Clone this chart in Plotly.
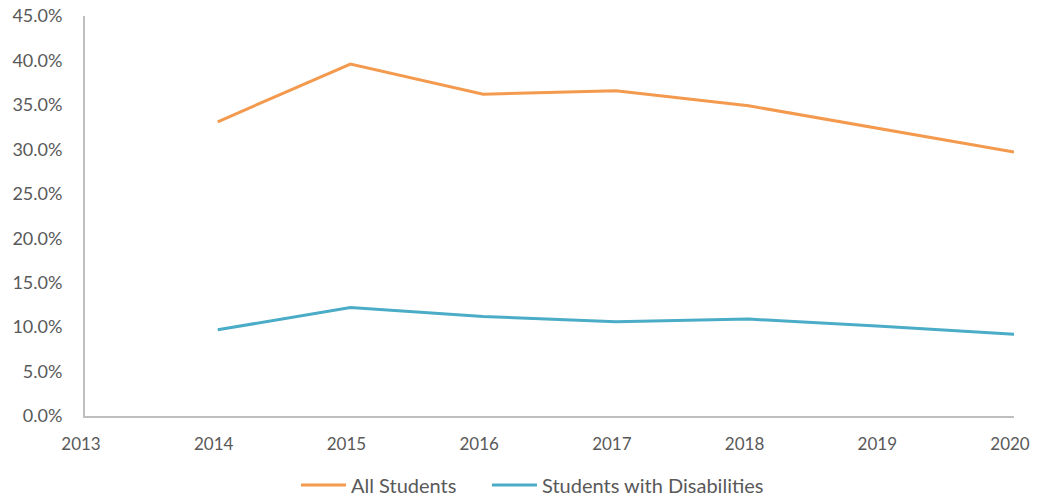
import plotly.graph_objects as go

years = [2014, 2015, 2016, 2017, 2018, 2019, 2020]
all_students = [33.1, 39.6, 36.2, 36.6, 34.9, 32.3, 29.7]
swd = [9.7, 12.2, 11.2, 10.6, 10.9, 10.1, 9.2]
x_ticks = [2013, 2014, 2015, 2016, 2017, 2018, 2019, 2020]
y_ticks = [0, 5, 10, 15, 20, 25, 30, 35, 40, 45]

fig = go.Figure()
fig.add_trace(go.Scatter(x=years, y=all_students, mode="lines", name="All Students",
                         line=dict(color="#F39A4E", width=3), legend="legend"))
fig.add_trace(go.Scatter(x=years, y=swd, mode="lines", name="Students with Disabilities",
                         line=dict(color="#4AACC6", width=3), legend="legend2"))

# the page body keeps its default 8px margin, so the figure is sized to fit inside it
OFF = 8
W, H = 1039 - 2 * OFF, 504 - 2 * OFF
PLOT_H = 416 - 16
font_fam = "Lato, Open Sans, sans-serif"
leg_common = dict(orientation="h", xref="container", xanchor="left",
                  y=-(485 - 416) / PLOT_H, yref="paper", yanchor="middle",
                  font=dict(size=20, color="#595959"), itemwidth=45,
                  bgcolor="rgba(0,0,0,0)", borderwidth=0)
fig.update_layout(
    width=W, height=H,
    margin=dict(l=85 - OFF, r=W - (1014 - OFF), t=16 - OFF, b=H - (416 - OFF), autoexpand=False),
    paper_bgcolor="white", plot_bgcolor="white",
    font=dict(family=font_fam, size=18, color="#595959"),
    showlegend=True,
    legend=dict(x=(296 - OFF) / W, **leg_common),
    legend2=dict(x=(487 - OFF) / W, **leg_common),
    xaxis=dict(range=[2013, 2020], tickvals=x_ticks, ticktext=[str(v) for v in x_ticks],
               showgrid=False, zeroline=False, showline=True, linecolor="#BFBFBF",
               linewidth=2, ticks="", ticklen=0, automargin=False, ticklabelstandoff=12,
               ticklabeloverflow="allow", ticklabelshift=-4,
               tickfont=dict(size=17, color="#595959")),
    yaxis=dict(range=[0, 45], tickvals=y_ticks, ticktext=[f"{v:.1f}%" for v in y_ticks],
               showgrid=False, zeroline=False, showline=True, linecolor="#BFBFBF",
               linewidth=2, ticks="", automargin=False, ticklabelstandoff=17,
               ticklabeloverflow="allow",
               tickfont=dict(size=18, color="#595959")),
)

fig.write_html("out.html")
